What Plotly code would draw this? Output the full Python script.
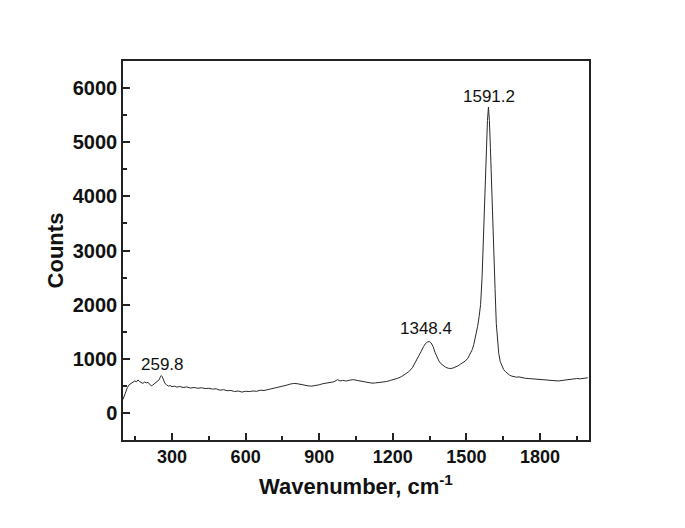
import plotly.graph_objects as go

# Raman spectrum
wavenumber = [100, 106, 112, 118, 125, 132, 140, 148, 155, 161, 167, 174, 181, 188, 195, 202, 209, 215, 220,
              227, 234, 241, 247, 252, 256, 260, 265, 271, 278, 285, 292, 300, 310, 320, 330, 345, 360, 375,
              390, 405, 420, 435, 450, 465, 480, 495, 510, 525, 540, 555, 570, 585, 600, 615, 630, 645, 660,
              675, 690, 705, 720, 735, 750, 765, 780, 795, 810, 825, 840, 855, 870, 885, 900, 915, 930, 945,
              960, 975, 985, 995, 1010, 1025, 1040, 1055, 1070, 1085, 1100, 1115, 1130, 1145, 1160, 1175,
              1190, 1205, 1220, 1235, 1250, 1265, 1280, 1292, 1304, 1316, 1326, 1334, 1342, 1349, 1356, 1364,
              1372, 1380, 1388, 1396, 1405, 1415, 1426, 1436, 1446, 1456, 1466, 1476, 1486, 1496, 1506, 1516,
              1524, 1530, 1538, 1546, 1552, 1558, 1564, 1570, 1576, 1581, 1586, 1590, 1594, 1598, 1603, 1608,
              1612, 1617, 1622, 1627, 1632, 1638, 1645, 1652, 1660, 1668, 1676, 1685, 1695, 1705, 1715, 1725,
              1740, 1755, 1770, 1785, 1800, 1815, 1830, 1845, 1860, 1875, 1890, 1905, 1920, 1935, 1950, 1965,
              1980, 1995]
counts = [250, 330, 420, 470, 520, 540, 560, 590, 575, 610, 580, 560, 545, 570, 555, 565, 530, 500, 510,
          540, 565, 590, 610, 660, 690, 670, 600, 545, 520, 495, 505, 485, 495, 475, 490, 470, 480, 460,
          470, 455, 465, 450, 455, 440, 445, 420, 430, 410, 415, 395, 405, 385, 400, 395, 405, 400, 420,
          415, 430, 445, 455, 470, 490, 510, 530, 545, 540, 525, 515, 500, 495, 505, 520, 540, 555, 560,
          575, 615, 590, 600, 590, 605, 615, 600, 585, 570, 565, 550, 555, 560, 570, 580,
          600, 615, 640, 670, 710, 760, 835, 930, 1030, 1140, 1230, 1285, 1310, 1320, 1295, 1230,
          1120, 1030, 960, 910, 875, 845, 825, 820, 830, 845, 870, 900, 930, 960, 1010, 1090,
          1170, 1260, 1420, 1600, 1780, 2000, 2500, 3300, 4100, 4900, 5400, 5650, 5400, 4900, 4100, 3500,
          3000, 2300, 1650, 1300, 1100, 950, 880, 800, 760, 720, 700, 680, 670, 660, 665, 650,
          640, 635, 630, 625, 610, 605, 600, 595, 600, 590, 600, 610, 615, 625, 635, 630,
          645, 650]

# peak labels
peak_names = ["259.8", "1348.4", "1591.2"]
peak_x = [263, 1335, 1593]
peak_y = [903, 1553, 5837]

font = "Liberation Sans, Arial"

fig = go.Figure()
fig.add_trace(go.Scatter(x=wavenumber, y=counts, mode="lines",
                         line=dict(color="#2a2a2a", width=1), showlegend=False))

for name, px_, py_ in zip(peak_names, peak_x, peak_y):
    fig.add_annotation(x=px_, y=py_, text=name, showarrow=False,
                       font=dict(family=font, size=17, color="#111"))

axis_common = dict(showline=True, linecolor="#222", linewidth=1.5, mirror=True,
                   ticks="inside", ticklen=7, tickwidth=1.5, tickcolor="#222",
                   showgrid=False, zeroline=False)

fig.update_xaxes(range=[100, 2000], tickvals=[300, 600, 900, 1200, 1500, 1800],
                 tickfont=dict(family=font, size=18, color="#111", weight="bold"),
                 minor=dict(ticks="inside", ticklen=4, tickwidth=1.5, tickcolor="#222",
                            tickvals=[150, 450, 750, 1050, 1350, 1650, 1950]),
                 title=dict(text="Wavenumber, cm<sup>-1</sup>", standoff=12,
                            font=dict(family=font, size=22, color="#111", weight="bold")),
                 **axis_common)
fig.update_yaxes(range=[-500, 6500], tickvals=[0, 1000, 2000, 3000, 4000, 5000, 6000],
                 tickfont=dict(family=font, size=20, color="#111", weight="bold"),
                 minor=dict(ticks="inside", ticklen=4, tickwidth=1.5, tickcolor="#222",
                            tickvals=[500, 1500, 2500, 3500, 4500, 5500]),
                 title=dict(text="Counts", standoff=3,
                            font=dict(family=font, size=22, color="#111", weight="bold")),
                 **axis_common)

fig.update_layout(width=685, height=528, plot_bgcolor="white", paper_bgcolor="white",
                  margin=dict(l=115, r=104, t=53, b=96))

fig.write_html("out.html")
